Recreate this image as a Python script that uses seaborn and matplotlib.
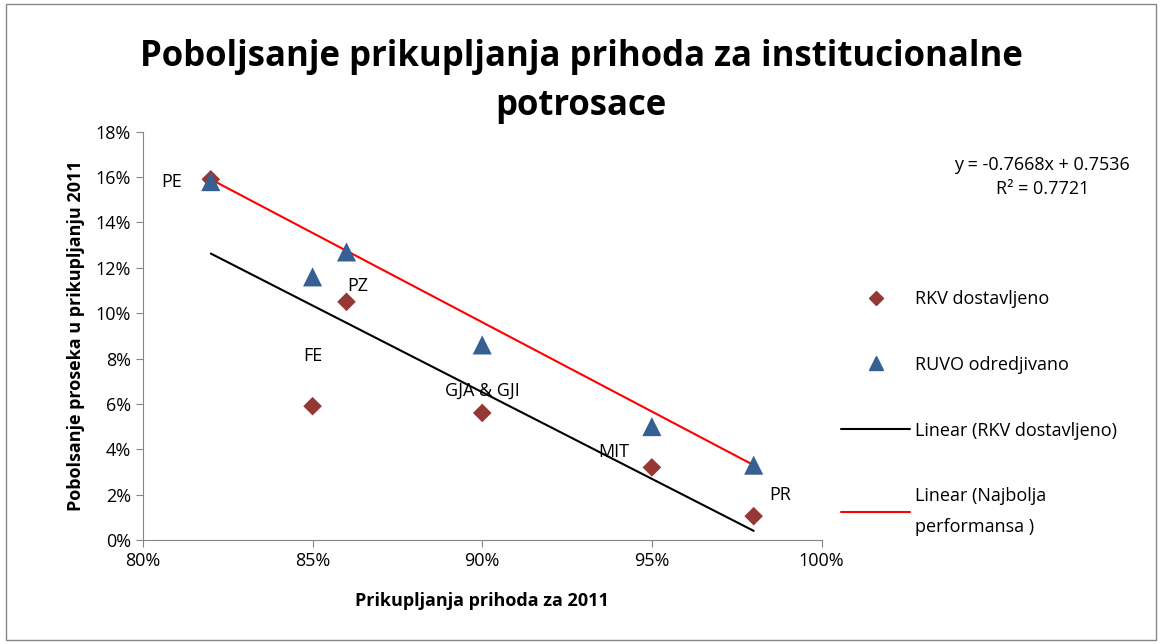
import numpy as np
import pandas as pd
import seaborn as sns
import matplotlib.pyplot as plt
from matplotlib.lines import Line2D
from matplotlib.ticker import PercentFormatter

# Podaci sa grafika
ustanove = ['PE', 'PZ', 'FE', 'GJA & GJI', 'MIT', 'PR']
prikupljanje = [0.82, 0.86, 0.85, 0.90, 0.95, 0.98]
rkv_dostavljeno = [0.159, 0.105, 0.059, 0.056, 0.032, 0.0105]
ruvo_odredjivano = [0.158, 0.127, 0.116, 0.086, 0.050, 0.033]
# najbolja performansa - skrivena serija (samo trend linija)
najbolja_x = [0.82, 0.98]
najbolja_y = [0.159, 0.033]

df = pd.DataFrame({'ustanova': ustanove, 'x': prikupljanje,
                   'rkv': rkv_dostavljeno, 'ruvo': ruvo_odredjivano})
df_najbolja = pd.DataFrame({'x': najbolja_x, 'y': najbolja_y})

sns.set_style('white')
plt.rcParams['font.family'] = ['Open Sans', 'DejaVu Sans']
plt.rcParams['text.color'] = 'black'
plt.rcParams['axes.labelcolor'] = 'black'

fig = plt.figure(figsize=(11.62, 6.44), dpi=100)
ax = fig.add_axes([0.123, 0.1615, 0.584, 0.634])

# Trend linije
sns.regplot(data=df, x='x', y='rkv', scatter=False, ci=None, ax=ax,
            line_kws={'color': 'black', 'lw': 1.5})
sns.regplot(data=df_najbolja, x='x', y='y', scatter=False, ci=None, ax=ax,
            line_kws={'color': '#FF0000', 'lw': 1.5})

# Tacke
sns.scatterplot(data=df, x='x', y='rkv', marker='D', s=90, color='#953735',
                edgecolor='none', ax=ax, zorder=3)
sns.scatterplot(data=df, x='x', y='ruvo', marker='^', s=190, color='#376092',
                edgecolor='none', ax=ax, zorder=4)

# Oznake ustanova
pomaci = {'PE': (-39, -3), 'PZ': (11, 16), 'FE': (0, 50),
          'GJA & GJI': (0, 22), 'MIT': (-38, 15), 'PR': (27, 21)}
for _, red in df.iterrows():
    ax.annotate(red['ustanova'], (red['x'], red['rkv']),
                xytext=pomaci[red['ustanova']], textcoords='offset pixels',
                ha='center', va='center', fontsize=13)

ax.set_xlim(0.80, 1.00)
ax.set_ylim(0, 0.18)
ax.set_xticks(np.arange(0.80, 1.001, 0.05))
ax.set_yticks(np.arange(0, 0.181, 0.02))
ax.xaxis.set_major_formatter(PercentFormatter(1.0, decimals=0))
ax.yaxis.set_major_formatter(PercentFormatter(1.0, decimals=0))
ax.tick_params(axis='both', labelsize=13, direction='out', length=5,
               color='#868686', labelcolor='black', bottom=True, left=True)
for s in ['top', 'right']:
    ax.spines[s].set_visible(False)
for s in ['left', 'bottom']:
    ax.spines[s].set_color('#868686')

ax.set_xlabel('Prikupljanja prihoda za 2011', fontsize=13, fontweight='bold', labelpad=16)
ax.set_ylabel('Pobolsanje proseka u prikupljanju 2011', fontsize=13, fontweight='bold', labelpad=8)

fig.suptitle('Poboljsanje prikupljanja prihoda za institucionalne\npotrosace',
             x=0.5, y=0.94, fontsize=25, fontweight='bold', linespacing=1.5)

# Jednacina trenda
fig.text(0.897, 0.725, 'y = -0.7668x + 0.7536\nR² = 0.7721', ha='center', va='center',
         fontsize=13, linespacing=1.4)

# Legenda
elementi = [
    Line2D([], [], marker='D', color='#953735', ls='none', markersize=7),
    Line2D([], [], marker='^', color='#376092', ls='none', markersize=10),
    Line2D([], [], color='black', lw=1.5),
    Line2D([], [], color='#FF0000', lw=1.5),
]
nazivi = ['RKV dostavljeno', 'RUVO odredjivano', 'Linear (RKV dostavljeno)',
          'Linear (Najbolja\nperformansa )']
leg = fig.legend(elementi, nazivi, loc='upper left', bbox_to_anchor=(0.71, 0.575),
                 frameon=False, fontsize=13, labelspacing=2.65, handlelength=3.8,
                 handletextpad=0.3)
for t in leg.get_texts():
    t.set_linespacing(1.9)

# Okvir grafikona
fig.patches.append(plt.Rectangle((0.005, 0.006), 0.99, 0.988, transform=fig.transFigure,
                                 fill=False, edgecolor='#868686', lw=1))

fig.savefig('out.png', dpi=100)
